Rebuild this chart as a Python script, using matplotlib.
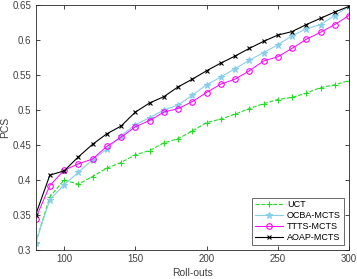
import numpy as np
import matplotlib
matplotlib.use("Agg")
import matplotlib.pyplot as plt

plt.rcParams['font.family'] = ['Liberation Sans', 'DejaVu Sans']

rollouts = np.arange(80, 301, 10)

uct = [0.310, 0.376, 0.400, 0.394, 0.405, 0.417, 0.425, 0.436, 0.442, 0.453, 0.459,
       0.470, 0.482, 0.487, 0.494, 0.502, 0.509, 0.515, 0.518, 0.524, 0.532, 0.536, 0.542]
ocba = [0.310, 0.372, 0.393, 0.411, 0.429, 0.444, 0.463, 0.479, 0.489, 0.500, 0.507,
        0.521, 0.536, 0.547, 0.559, 0.571, 0.582, 0.593, 0.606, 0.616, 0.622, 0.635, 0.648]
ttts = [0.345, 0.392, 0.414, 0.423, 0.430, 0.448, 0.461, 0.476, 0.485, 0.497, 0.502,
        0.512, 0.525, 0.537, 0.544, 0.556, 0.570, 0.576, 0.588, 0.601, 0.611, 0.622, 0.635]
aoap = [0.350, 0.407, 0.413, 0.433, 0.451, 0.466, 0.477, 0.497, 0.510, 0.519, 0.533,
        0.544, 0.556, 0.567, 0.577, 0.588, 0.598, 0.607, 0.612, 0.622, 0.631, 0.640, 0.648]

xticks = [100, 150, 200, 250, 300]
yticks = [0.3, 0.35, 0.4, 0.45, 0.5, 0.55, 0.6, 0.65]
ytick_labels = ["0.3", "0.35", "0.4", "0.45", "0.5", "0.55", "0.6", "0.65"]

fig = plt.figure(figsize=(3.57, 2.79), dpi=100)
ax = fig.add_axes([35.6/357, 29/279, (349-35.6)/357, 245/279])

ax.plot(rollouts, uct, '--+', color='#22dd22', lw=0.8, ms=4.5, mew=0.8, label='UCT')
ax.plot(rollouts, ocba, '-*', color='#87ceeb', lw=0.8, ms=4.5, mew=0.8, label='OCBA-MCTS')
ax.plot(rollouts, ttts, '-o', color='#ff00ff', lw=0.7, ms=4, mfc='none', mew=0.8, label='TTTS-MCTS')
ax.plot(rollouts, aoap, '-x', color='black', lw=0.8, ms=3.5, mew=0.8, label='AOAP-MCTS')

ax.set_xlim(80, 300)
ax.set_ylim(0.3, 0.65)
ax.set_xticks(xticks)
ax.set_yticks(yticks)
ax.set_yticklabels(ytick_labels)
ax.tick_params(direction='in', length=3, width=0.6, labelsize=7, colors='#262626',
               labelcolor='#404040', top=True, right=True, pad=3)
for s in ax.spines.values():
    s.set_linewidth(0.6)
    s.set_color('#262626')

ax.set_xlabel('Roll-outs', fontsize=7.5, color='#404040', labelpad=3)
ax.set_ylabel('PCS', fontsize=7.5, color='#404040', labelpad=2)

leg = ax.legend(loc='lower right', fontsize=6.5, frameon=True, fancybox=False,
                edgecolor='#262626', borderpad=0.3, labelspacing=0.2, handlelength=3.2,
                handletextpad=0.4, borderaxespad=0.6)
leg.get_frame().set_linewidth(0.6)

fig.savefig('out.png', dpi=100)
